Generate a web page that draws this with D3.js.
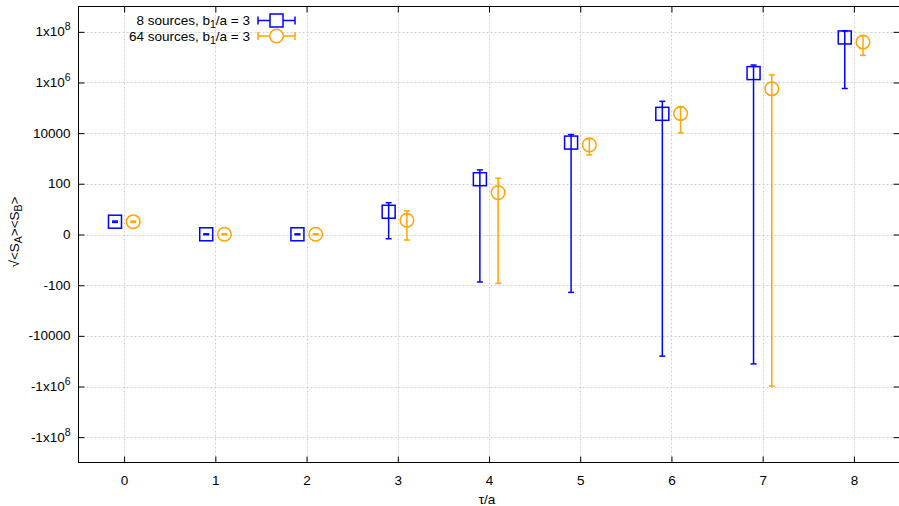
<!DOCTYPE html>
<html>
<head>
<meta charset="utf-8">
<script src="https://cdn.jsdelivr.net/npm/d3@7"></script>
<style>
  body { margin: 0; background: #fff; }
  svg { display: block; font-family: "Liberation Sans", Arial, sans-serif; }
</style>
</head>
<body>
<svg width="899" height="506"></svg>
<script>
// tau/a positions
const tau = [0, 1, 2, 3, 4, 5, 6, 7, 8];

// 8 sources, b1/a = 3
const src8 = [2.2, 0.02, 0.02, 6.9, 151, 4250, 58000, 2.35e6, 6.0e7];
const src8Lo = [2.0, -0.02, -0.02, -0.47, -74, -192, -63400, -128000, 5.8e5];
const src8Hi = [2.4, 0.06, 0.06, 17, 354, 8800, 181000, 4.9e6, 1.1e8];

// 64 sources, b1/a = 3
const src64 = [2.2, 0.02, 0.02, 2.64, 44, 3450, 59500, 5.64e5, 3.95e7];
const src64Lo = [2.0, -0.02, -0.02, -0.65, -84, 1385, 10300, -9.7e5, 1.17e7];
const src64Hi = [2.4, 0.06, 0.06, 7.5, 165, 5950, 112000, 2.0e6, 7.0e7];

// axis ticks
const xTicks = [0, 1, 2, 3, 4, 5, 6, 7, 8];
const yTicks = [1e8, 1e6, 1e4, 100, 0, -100, -1e4, -1e6, -1e8];
const yTickLabels = [
  ["1x10", "8"], ["1x10", "6"], ["10000"], ["100"], ["0"],
  ["-100"], ["-10000"], ["-1x10", "6"], ["-1x10", "8"]
];

const svg = d3.select("svg");
const pLeft = 78.5, pRight = 899.5, pTop = 6.5, pBottom = 462.5;
const fs = 13.5;

const x = d3.scaleLinear().domain([-0.5, 8.5]).range([pLeft, pRight]);
const y = d3.scaleSymlog().constant(1).domain([-1e9, 1e9]).range([pBottom, pTop]);

const blue = "#0000ff", orange = "#ffa500";

// grid
const grid = svg.append("g")
    .attr("stroke", "#d0d0d0")
    .attr("stroke-width", 1)
    .attr("stroke-dasharray", "2,2");
grid.selectAll(".gx").data(xTicks).enter().append("line")
    .attr("x1", d => Math.round(x(d)) + 0.5).attr("x2", d => Math.round(x(d)) + 0.5)
    .attr("y1", pTop).attr("y2", pBottom);
grid.selectAll(".gy").data(yTicks).enter().append("line")
    .attr("y1", d => Math.round(y(d)) + 0.5).attr("y2", d => Math.round(y(d)) + 0.5)
    .attr("x1", pLeft).attr("x2", pRight);

// axes (ticks inward, mirrored)
const tickLen = 6;
const axB = svg.append("g").attr("transform", `translate(0,${pBottom})`)
    .call(d3.axisBottom(x).tickValues(xTicks).tickSize(-tickLen).tickPadding(13));
const axT = svg.append("g").attr("transform", `translate(0,${pTop})`)
    .call(d3.axisTop(x).tickValues(xTicks).tickSize(-tickLen).tickFormat(""));
const axL = svg.append("g").attr("transform", `translate(${pLeft},0)`)
    .call(d3.axisLeft(y).tickValues(yTicks).tickSize(-tickLen).tickFormat(""));
const axR = svg.append("g").attr("transform", `translate(${pRight},0)`)
    .call(d3.axisRight(y).tickValues(yTicks).tickSize(-tickLen).tickFormat(""));

[axB, axT, axL, axR].forEach(a => {
  a.select(".domain").remove();
  a.selectAll(".tick line").attr("stroke", "#000");
});
axB.selectAll(".tick text")
    .attr("font-size", fs).attr("fill", "#000")
    .attr("font-family", "Liberation Sans, Arial, sans-serif");

// y tick labels with superscripts
yTicks.forEach((v, i) => {
  const t = svg.append("text")
      .attr("x", pLeft - 8)
      .attr("y", y(v) + 4.5)
      .attr("text-anchor", "end")
      .attr("font-size", fs)
      .attr("fill", "#000");
  const lab = yTickLabels[i];
  t.append("tspan").text(lab[0]);
  if (lab.length > 1) {
    t.append("tspan").attr("dy", -6).attr("font-size", 10.5).text(lab[1]);
  }
});

// border
svg.append("rect")
    .attr("x", pLeft).attr("y", pTop)
    .attr("width", pRight - pLeft).attr("height", pBottom - pTop)
    .attr("fill", "none").attr("stroke", "#000").attr("stroke-width", 1);

// series
function drawSeries(vals, lo, hi, offset, color, shape) {
  const g = svg.append("g").attr("stroke", color).attr("stroke-width", 1.5).attr("fill", "none");
  tau.forEach((t, i) => {
    const cx = x(t + offset);
    g.append("line").attr("x1", cx).attr("x2", cx).attr("y1", y(lo[i])).attr("y2", y(hi[i]));
    g.append("line").attr("x1", cx - 3).attr("x2", cx + 3).attr("y1", y(lo[i])).attr("y2", y(lo[i]));
    g.append("line").attr("x1", cx - 3).attr("x2", cx + 3).attr("y1", y(hi[i])).attr("y2", y(hi[i]));
    const cy = y(vals[i]);
    if (shape === "square") {
      g.append("rect").attr("x", cx - 6.5).attr("y", cy - 6.5).attr("width", 13).attr("height", 13);
    } else {
      g.append("circle").attr("cx", cx).attr("cy", cy).attr("r", 6.8);
    }
  });
}
drawSeries(src8, src8Lo, src8Hi, -0.1, blue, "square");
drawSeries(src64, src64Lo, src64Hi, 0.1, orange, "circle");

// legend
const legend = [
  { n: "8", color: blue, shape: "square", yy: 20.5 },
  { n: "64", color: orange, shape: "circle", yy: 36 }
];
legend.forEach(l => {
  const t = svg.append("text")
      .attr("x", 250).attr("y", l.yy + 4.5)
      .attr("text-anchor", "end").attr("font-size", fs).attr("fill", "#000");
  t.append("tspan").text(`${l.n} sources, b`);
  t.append("tspan").attr("dy", 3).attr("font-size", 10.5).text("1");
  t.append("tspan").attr("dy", -3).text("/a = 3");
  const g = svg.append("g").attr("stroke", l.color).attr("stroke-width", 1.5).attr("fill", "none");
  g.append("line").attr("x1", 258).attr("x2", 295).attr("y1", l.yy).attr("y2", l.yy);
  g.append("line").attr("x1", 258).attr("x2", 258).attr("y1", l.yy - 4).attr("y2", l.yy + 4);
  g.append("line").attr("x1", 295).attr("x2", 295).attr("y1", l.yy - 4).attr("y2", l.yy + 4);
  if (l.shape === "square") {
    g.append("rect").attr("x", 276.5 - 6.5).attr("y", l.yy - 6.5).attr("width", 13).attr("height", 13)
        .attr("fill", "#fff");
  } else {
    g.append("circle").attr("cx", 276.5).attr("cy", l.yy).attr("r", 6.8).attr("fill", "#fff");
  }
});

// axis titles
svg.append("text")
    .attr("x", 487).attr("y", 504)
    .attr("text-anchor", "middle").attr("font-size", fs).attr("fill", "#000")
    .text("τ/a");

const yl = svg.append("text")
    .attr("transform", "translate(19,232) rotate(-90)")
    .attr("text-anchor", "middle").attr("font-size", fs).attr("fill", "#000");
yl.append("tspan").text("√<S");
yl.append("tspan").attr("dy", 3).attr("font-size", 10.5).text("A");
yl.append("tspan").attr("dy", -3).text("><S");
yl.append("tspan").attr("dy", 3).attr("font-size", 10.5).text("B");
yl.append("tspan").attr("dy", -3).text(">");
</script>
</body>
</html>
